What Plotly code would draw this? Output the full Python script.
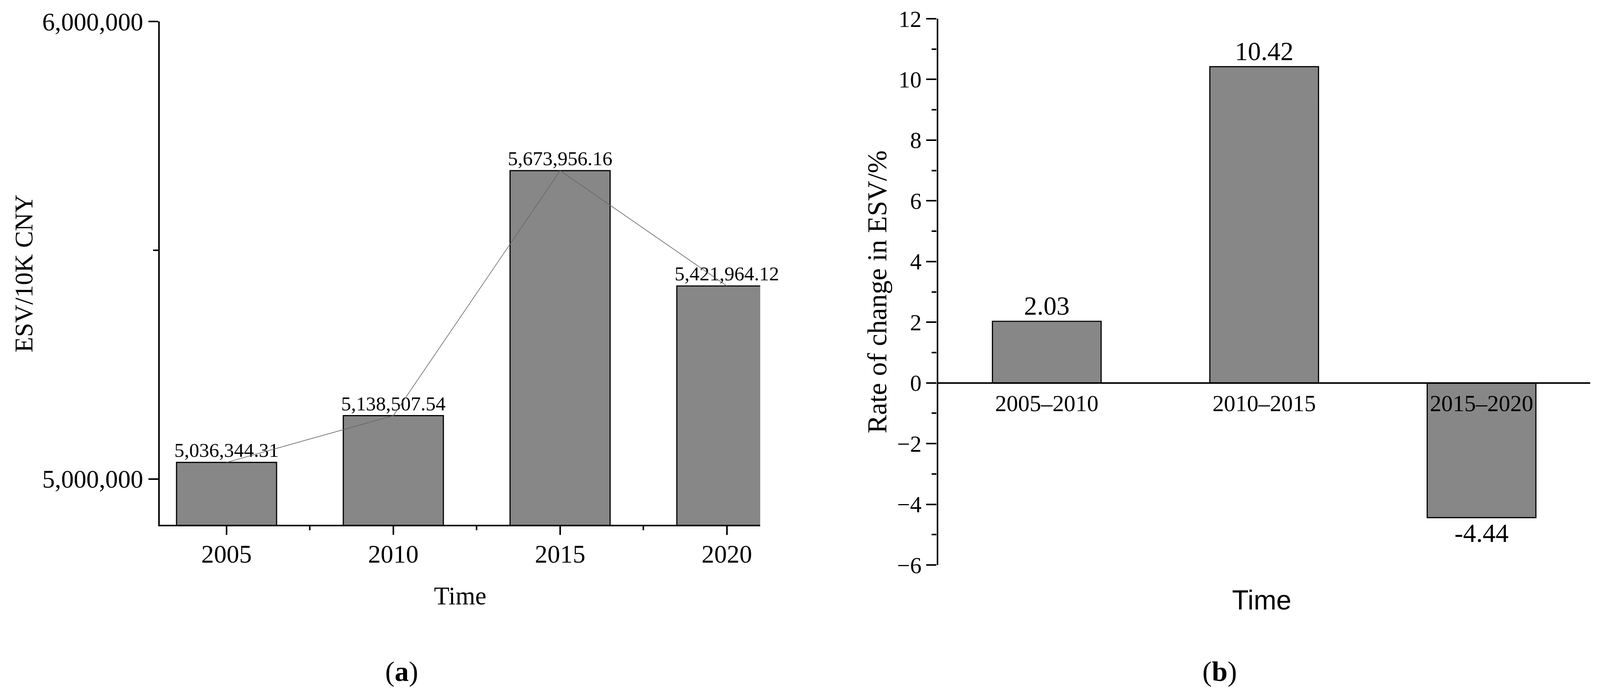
import math
import plotly.graph_objects as go

# ---- data ----
years = ["2005", "2010", "2015", "2020"]
esv_values = [5036344.31, 5138507.54, 5673956.16, 5421964.12]

periods = ["2005–2010", "2010–2015", "2015–2020"]
change_rates = [2.03, 10.42, -4.44]

# reference canvas is 4264 x 1780; the photographed page is 4096 css px wide, 1780 tall
REF_W, REF_H = 4264, 1780
VIEW_W, VIEW_H = 4096, 1780
SX = VIEW_W / REF_W
SY = VIEW_H / REF_H
SF = math.sqrt(SX * SY)
BODY = 8
FW = VIEW_W - 2 * BODY
FH = VIEW_H - 2 * BODY

SERIF = "Liberation Serif"
SANS = "Liberation Sans"
BAR_COLOR = "#878787"
AXW = 4.5 * SF


def fs(v):
    return v * SF


def px_x(p):
    return (p * SX - BODY) / FW


def px_y(p):
    return 1 - (p * SY - BODY) / FH


ax_a = dict(x0=426, x1=2026, y0=1344, y1=55)
ax_b = dict(x0=2500, x1=4238, y0=1447, y1=48)

b_ymin, b_ymax = -6, 12
zero_px = ax_b["y1"] + (ax_b["y0"] - ax_b["y1"]) * (b_ymax - 0) / (b_ymax - b_ymin)

fig = go.Figure()

xa = list(range(len(years)))
fig.add_trace(go.Bar(
    x=xa, y=esv_values, width=0.6,
    marker=dict(color=BAR_COLOR, line=dict(color="black", width=3 * SF)),
    text=[f"{v:,.2f}" for v in esv_values],
    textposition="outside", constraintext="none", cliponaxis=False,
    textfont=dict(family=SERIF, size=fs(52), color="black"),
    xaxis="x", yaxis="y", showlegend=False,
))
fig.add_trace(go.Scatter(
    x=xa, y=esv_values, mode="lines",
    line=dict(color="#666666", width=1.6),
    xaxis="x", yaxis="y", showlegend=False,
))

xb = list(range(len(periods)))
fig.add_trace(go.Bar(
    x=xb, y=change_rates, width=0.5,
    marker=dict(color=BAR_COLOR, line=dict(color="black", width=3 * SF)),
    text=[f"{v:.2f}" for v in change_rates],
    textposition="outside", constraintext="none", cliponaxis=False,
    textfont=dict(family=SERIF, size=fs(68), color="black"),
    xaxis="x2", yaxis="y2", showlegend=False,
))

fig.update_layout(
    width=FW, height=FH, autosize=False,
    margin=dict(l=0, r=0, t=0, b=0, autoexpand=False),
    paper_bgcolor="white", plot_bgcolor="white",
    font=dict(family=SERIF, color="black"),
    xaxis=dict(
        domain=[px_x(ax_a["x0"]), px_x(ax_a["x1"])], anchor="y",
        range=[-0.4, 3.2], tickvals=xa, ticktext=years,
        ticks="outside", ticklen=fs(22), tickwidth=AXW, tickcolor="black",
        minor=dict(dtick=0.5, tick0=0, ticks="outside", ticklen=fs(10),
                   tickwidth=AXW, tickcolor="black"),
        showline=True, linewidth=AXW, linecolor="black",
        showgrid=False, zeroline=False, automargin=False,
        tickfont=dict(family=SERIF, size=fs(66)),
        ticklabelstandoff=-6,
    ),
    yaxis=dict(
        domain=[px_y(ax_a["y0"]), px_y(ax_a["y1"])], anchor="x",
        range=[4.9e6, 6.0e6], dtick=1e6, tick0=0, tickformat=",d",
        ticks="outside", ticklen=fs(26), tickwidth=AXW, tickcolor="black",
        minor=dict(dtick=5e5, tick0=0, ticks="outside", ticklen=fs(13),
                   tickwidth=AXW, tickcolor="black"),
        showline=True, linewidth=AXW, linecolor="black",
        showgrid=False, zeroline=False, automargin=False,
        tickfont=dict(family=SERIF, size=fs(66)),
    ),
    xaxis2=dict(
        domain=[px_x(ax_b["x0"]), px_x(ax_b["x1"])], anchor="free",
        position=px_y(zero_px),
        range=[-0.5, 2.5], tickvals=xb, ticktext=periods,
        ticks="", showline=True, linewidth=AXW, linecolor="black",
        showgrid=False, zeroline=False, automargin=False,
        tickfont=dict(family=SERIF, size=fs(60)),
        ticklabelstandoff=0,
    ),
    yaxis2=dict(
        domain=[px_y(ax_b["y0"]), px_y(ax_b["y1"])], anchor="x2",
        range=[b_ymin, b_ymax], dtick=2, tick0=0,
        ticks="outside", ticklen=fs(27), tickwidth=AXW, tickcolor="black",
        minor=dict(dtick=1, tick0=0, ticks="outside", ticklen=fs(13),
                   tickwidth=AXW, tickcolor="black"),
        showline=True, linewidth=AXW, linecolor="black",
        showgrid=False, zeroline=False, automargin=False,
        tickfont=dict(family=SERIF, size=fs(60)),
    ),
    annotations=[
        dict(text="ESV/10K CNY", x=px_x(64), y=px_y(700), xref="paper", yref="paper",
             textangle=-90, showarrow=False, font=dict(family=SERIF, size=fs(66)),
             xanchor="center", yanchor="middle"),
        dict(text="Time", x=px_x(1226), y=px_y(1526), xref="paper", yref="paper",
             showarrow=False, font=dict(family=SERIF, size=fs(66)),
             xanchor="center", yanchor="middle"),
        dict(text="(<b>a</b>)", x=px_x(1071), y=px_y(1719), xref="paper", yref="paper",
             showarrow=False, font=dict(family=SERIF, size=fs(74)),
             xanchor="center", yanchor="middle"),
        dict(text="Rate of change in ESV/%", x=px_x(2337), y=px_y(747), xref="paper", yref="paper",
             textangle=-90, showarrow=False, font=dict(family=SERIF, size=fs(72)),
             xanchor="center", yanchor="middle"),
        dict(text="Time", x=px_x(3363), y=px_y(1537), xref="paper", yref="paper",
             showarrow=False, font=dict(family=SANS, size=fs(71)),
             xanchor="center", yanchor="middle"),
        dict(text="(<b>b</b>)", x=px_x(3251), y=px_y(1719), xref="paper", yref="paper",
             showarrow=False, font=dict(family=SERIF, size=fs(74)),
             xanchor="center", yanchor="middle"),
    ],
)

fig.write_html("out.html")
